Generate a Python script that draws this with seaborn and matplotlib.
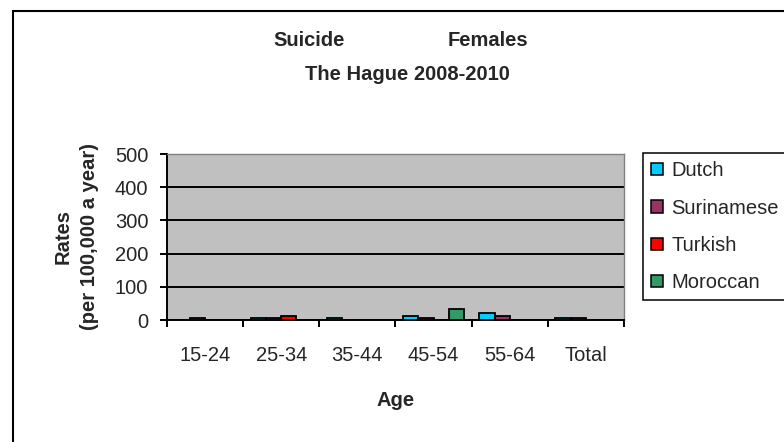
import matplotlib
matplotlib.use("Agg")
import matplotlib.pyplot as plt
from matplotlib.patches import Rectangle
import seaborn as sns
import pandas as pd

# ---- data ----
ages = ["15-24", "25-34", "35-44", "45-54", "55-64", "Total"]
groups = ["Dutch", "Surinamese", "Turkish", "Moroccan"]
dutch = [0, 5, 5, 12, 20, 5]
surinamese = [5, 5, 0, 5, 13, 5]
turkish = [0, 12, 0, 0, 0, 0]
moroccan = [0, 0, 0, 32, 0, 0]
colors = ["#00CCFF", "#993366", "#FF0000", "#339966"]
yticks = [0, 100, 200, 300, 400, 500]

series = {"Dutch": dutch, "Surinamese": surinamese, "Turkish": turkish, "Moroccan": moroccan}
rows = []
for g in groups:
    for a, v in zip(ages, series[g]):
        rows.append({"Age": a, "Group": g, "Rate": v})
df = pd.DataFrame(rows)

sns.set_style("white")
plt.rcParams["font.family"] = ["Liberation Sans", "DejaVu Sans"]

W, H = 784, 442
fig = plt.figure(figsize=(W / 100, H / 100), dpi=100)

def fx(px):
    return px / W

def fy(py):
    return 1 - py / H

# outer chart border (only left/top visible in frame)
fig.patches.append(Rectangle((fx(13), fy(470)), fx(820) - fx(13), fy(11) - fy(470),
                             transform=fig.transFigure, fill=False, edgecolor="black",
                             linewidth=1.5, zorder=0))

ax = fig.add_axes([fx(167), fy(320), fx(624) - fx(167), fy(154) - fy(320)])
ax.set_facecolor("#C0C0C0")

sns.barplot(data=df, x="Age", y="Rate", hue="Group", hue_order=groups, order=ages,
            palette=colors, saturation=1, width=0.8, edgecolor="black", linewidth=1.3,
            errorbar=None, ax=ax, zorder=3)

ax.set_ylim(0, 500)
ax.set_yticks(yticks)
ax.set_xlim(-0.5, len(ages) - 0.5)
ax.yaxis.grid(True, color="black", linewidth=1.4, zorder=1)
ax.set_axisbelow(True)

for s in ["left", "bottom"]:
    ax.spines[s].set_color("black")
    ax.spines[s].set_linewidth(1.4)
for s in ["top", "right"]:
    ax.spines[s].set_color("#808080")
    ax.spines[s].set_linewidth(1.0)

ax.tick_params(axis="y", direction="out", length=5, width=1.4, color="black",
               pad=8.5, labelsize=14.5, left=True)
ax.set_xticks(range(len(ages)))
ax.set_xticklabels(ages)
ax.set_xticks([i - 0.5 for i in range(len(ages) + 1)], minor=True)
ax.tick_params(axis="x", which="major", length=0, pad=18.5, labelsize=14.5)
ax.tick_params(axis="x", which="minor", direction="out", length=5, width=1.4,
               color="black", bottom=True)

ax.set_ylabel("Rates\n(per 100,000 a year)", fontsize=14.5, fontweight="bold",
              linespacing=1.5, va="center")
ax.yaxis.set_label_coords((76 - 167) / 457, 0.5)
ax.set_xlabel("Age", fontsize=14.5, fontweight="bold", va="center")
ax.xaxis.set_label_coords(0.5, (320 - 400) / 166)

# titles
fig.text(fx(273), fy(41), "Suicide", fontsize=14.5, fontweight="bold", ha="left", va="center")
fig.text(fx(448), fy(41), "Females", fontsize=14.5, fontweight="bold", ha="left", va="center")
fig.text(fx(407), fy(74), "The Hague 2008-2010", fontsize=14.5, fontweight="bold",
         ha="center", va="center")

# legend
handles, labels = ax.get_legend_handles_labels()
leg = ax.legend(handles, labels, loc="upper left",
                bbox_to_anchor=(fx(643), fy(315), fx(820) - fx(643), fy(153) - fy(315)),
                bbox_transform=fig.transFigure, mode="expand", borderaxespad=0,
                frameon=True, fancybox=False, edgecolor="black", facecolor="white",
                framealpha=1, handlelength=0.55, handleheight=0.55, handletextpad=0.45,
                labelspacing=0.9, borderpad=0.42, fontsize=14.5, title=None)
leg.get_frame().set_linewidth(1.1)
for p in leg.get_patches():
    p.set_edgecolor("black")
    p.set_linewidth(1.1)

fig.savefig("out.png", dpi=100)
